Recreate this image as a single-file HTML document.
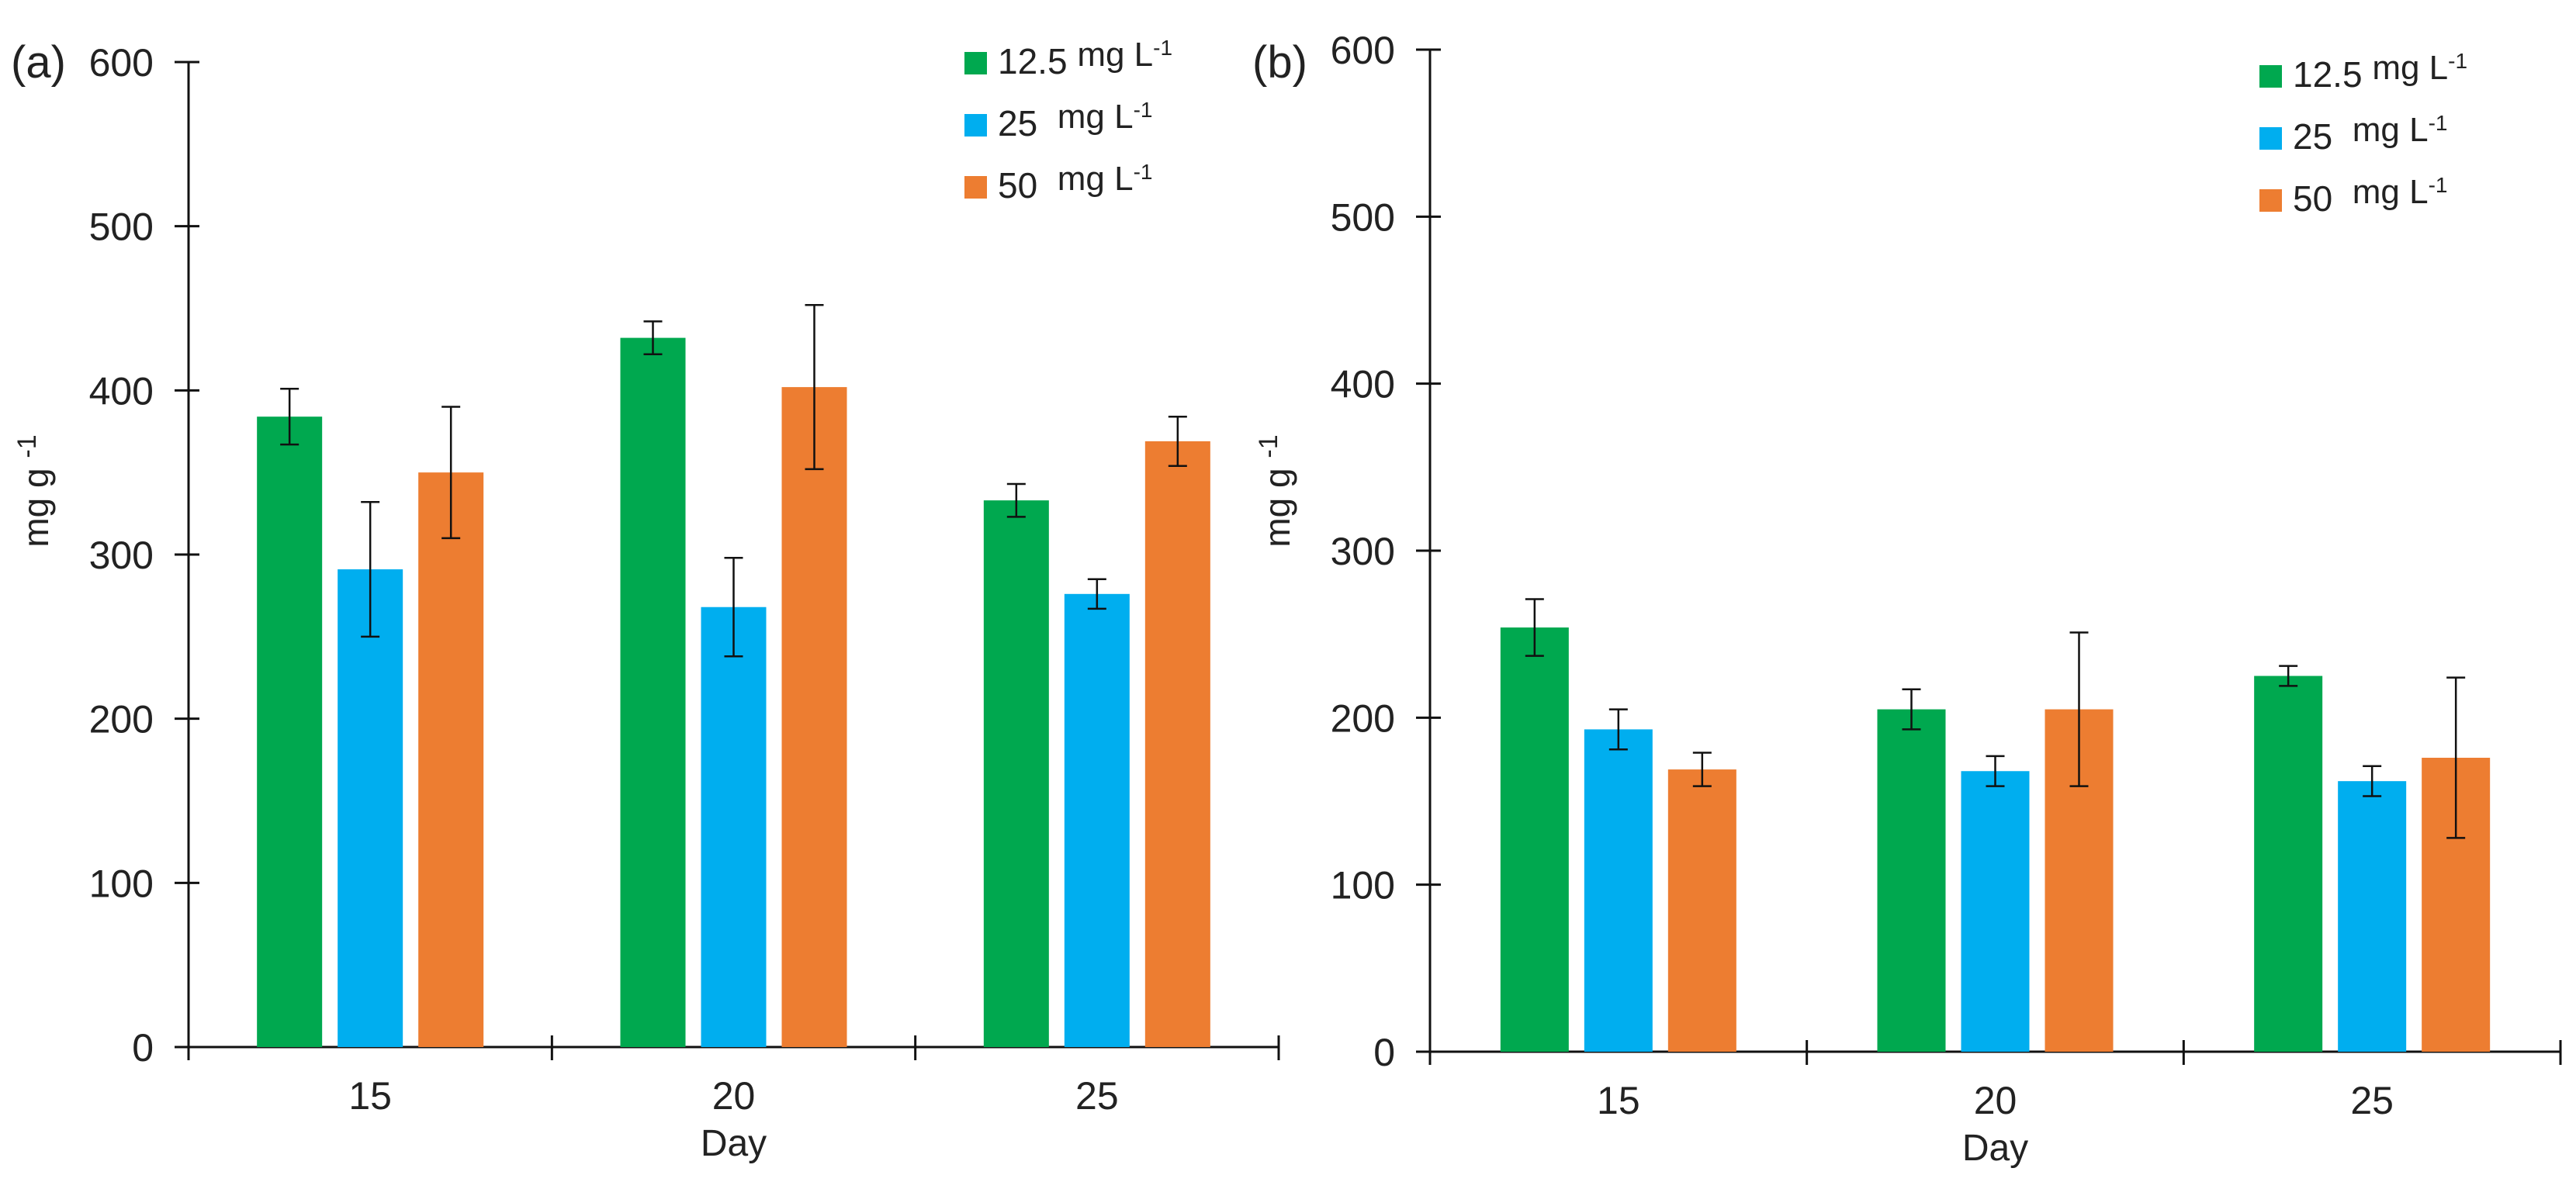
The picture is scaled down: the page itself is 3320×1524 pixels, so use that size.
<!DOCTYPE html>
<html><head><meta charset="utf-8"><style>
html,body{margin:0;padding:0;background:#fff;}
svg{display:block;font-family:"Liberation Sans",Arial,sans-serif;}
</style></head><body>
<svg id="chart" width="3320" height="1524" viewBox="0 0 3320 1524" xmlns="http://www.w3.org/2000/svg"></svg>
<script>
const categories = ["15","20","25"];
const seriesNames = ["12.5","25","50"];
const colors = ["#00a84f","#00aeef","#ed7d31"];
const yTicks = [0,100,200,300,400,500,600];
// panel (a)
const aValues12 = [384, 432, 333];
const aValues25 = [291, 268, 276];
const aValues50 = [350, 402, 369];
const aErr12 = [17, 10, 10];
const aErr25 = [41, 30, 9];
const aErr50 = [40, 50, 15];
// panel (b)
const bValues12 = [254, 205, 225];
const bValues25 = [193, 168, 162];
const bValues50 = [169, 205, 176];
const bErr12 = [17, 12, 6];
const bErr25 = [12, 9, 9];
const bErr50 = [10, 46, 48];

const NS = "http://www.w3.org/2000/svg";
const svg = document.getElementById("chart");
function mk(tag, attrs, parent, text){
  const e = document.createElementNS(NS, tag);
  for (const k in attrs) e.setAttribute(k, attrs[k]);
  if (text !== undefined) e.textContent = text;
  (parent||svg).appendChild(e);
  return e;
}

function panel(cfg){
  const g = mk("g", {});
  
  
  const y = v => cfg.y0 - (v/600)*(cfg.y0 - cfg.y600);
  const catW = (cfg.xEnd - cfg.x0)/categories.length;
  const x = i => cfg.x0 + catW*(i+0.5);
  const ya = mk("line", {x1:cfg.x0, y1:cfg.y600, x2:cfg.x0, y2:cfg.y0+17, stroke:"#111", "stroke-width":3}, g);
  
  
  yTicks.forEach(t => {
    const tk = mk("line", {x1:cfg.x0-18, y1:y(t), x2:cfg.x0+14, y2:y(t), stroke:"#111", "stroke-width":3}, g);
    
    
    const tl = mk("text", {x:cfg.x0-45, y:y(t)+18, "text-anchor":"end", "font-size":50, fill:"#222"}, g, String(t));
    
    
  });
  const xa = mk("line", {x1:cfg.x0-18, y1:cfg.y0, x2:cfg.xEnd, y2:cfg.y0, stroke:"#111", "stroke-width":3}, g);
  
  
  for (let i=1;i<=categories.length;i++){
    const xt = cfg.x0 + catW*i;
    const tk = mk("line", {x1:xt, y1:cfg.y0-15, x2:xt, y2:cfg.y0+17, stroke:"#111", "stroke-width":3}, g);
    
    
  }
  const vals = cfg.values, errs = cfg.errs;
  categories.forEach((c, i) => {
    const cl = mk("text", {x:x(i), y:cfg.y0+80, "text-anchor":"middle", "font-size":50, fill:"#222"}, g, c);
    
    
    for (let s=0;s<3;s++){
      const cx = x(i) + (s-1)*cfg.step;
      const v = vals[s][i], e = errs[s][i];
      const b = mk("rect", {x:cx-cfg.bw/2, y:y(v), width:cfg.bw, height:cfg.y0-y(v), fill:colors[s]}, g);
      
      
      const eb = mk("path", {d:`M${cx-12},${y(v+e)}H${cx+12}M${cx},${y(v+e)}V${y(v-e)}M${cx-12},${y(v-e)}H${cx+12}`, stroke:"#111", "stroke-width":2.5, fill:"none"}, g);
      
      
    }
  });
  const xt = mk("text", {x:(cfg.x0+cfg.xEnd)/2, y:cfg.y0+140, "text-anchor":"middle", "font-size":48, fill:"#222"}, g, "Day");
  
  
  const yt = mk("text", {transform:`translate(${cfg.ytX},${cfg.ytY}) rotate(-90)`, "text-anchor":"middle", "font-size":46, fill:"#222"}, g);
  
  
  yt.innerHTML = 'mg g <tspan dy="-16" font-size="34">-1</tspan>';
  const pl = mk("text", {x:cfg.lblX, y:cfg.lblY, "font-size":58, fill:"#222"}, g, cfg.label);
  
  
  const lg = mk("g", {}, g);
  
  
  seriesNames.forEach((n, s) => {
    const ly = cfg.legY + s*80;
    const it = mk("g", {}, lg);
    
    
    mk("rect", {x:cfg.legX, y:ly-28, width:29, height:29, fill:colors[s]}, it);
    const t = mk("text", {x:cfg.legX+43, y:ly, "font-size":46, fill:"#222"}, it);
    t.innerHTML = n + (n.length>2?' ':'&#160;&#160;') + '<tspan dy="-10" font-size="44">mg L</tspan><tspan dy="-14" font-size="28">-1</tspan>';
  });
}

panel({name:"panel-a", x0:243, xEnd:1648, y0:1350, y600:80, bw:84, step:104,
  values:[aValues12,aValues25,aValues50], errs:[aErr12,aErr25,aErr50],
  ytX:62, ytY:633, lblX:14, lblY:100, label:"(a)", legX:1243, legY:95});
panel({name:"panel-b", x0:1843, xEnd:3300, y0:1356, y600:64, bw:88, step:108,
  values:[bValues12,bValues25,bValues50], errs:[bErr12,bErr25,bErr50],
  ytX:1662, ytY:633, lblX:1614, lblY:100, label:"(b)", legX:2912, legY:112});
</script>
</body></html>
